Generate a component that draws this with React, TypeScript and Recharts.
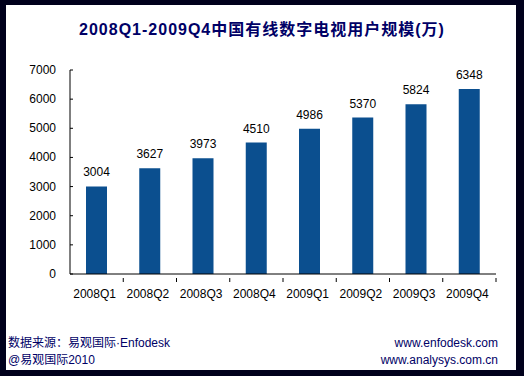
import React from 'react';
import { BarChart, Bar, XAxis, YAxis, LabelList } from 'recharts';

const quarters = ['2008Q1', '2008Q2', '2008Q3', '2008Q4', '2009Q1', '2009Q2', '2009Q3', '2009Q4'];
const users = [3004, 3627, 3973, 4510, 4986, 5370, 5824, 6348];
const yTicks = [0, 1000, 2000, 3000, 4000, 5000, 6000, 7000];

const data = quarters.map((q, i) => ({ q, users: users[i] }));

const FONT = '"Liberation Sans", Arial, "Noto Sans CJK SC", sans-serif';
const NAVY = '#000066';
const BAR = '#0b4f8f';

// plot area: x 70..496
const BAND = (496 - 70) / quarters.length;
const Y_GAP = 14;

// category ticks sit on the boundaries and point up into the plot
const QuarterTick = (props: any) => {
  const { x, y, payload } = props;
  const edge = x + BAND / 2;
  return (
    <g>
      <line x1={edge} x2={edge} y1={y - 4} y2={y} stroke="#000" strokeWidth={1} />
      <text x={x - 2} y={y + 16} textAnchor="middle" fontSize={12} fontFamily={FONT} fill="#000">
        {payload.value}
      </text>
    </g>
  );
};

// value ticks point right, into the plot
const ValueTick = (props: any) => {
  const { x, y, payload } = props;
  const axisX = x + Y_GAP;
  return (
    <g>
      <line x1={axisX} x2={axisX + 3} y1={y} y2={y} stroke="#000" strokeWidth={1} />
      <text x={x} y={y + 4} textAnchor="end" fontSize={12} fontFamily={FONT} fill="#000">
        {payload.value}
      </text>
    </g>
  );
};

export default function App() {
  return (
    <div style={{ position: 'absolute', left: 0, top: 0, width: 524, height: 376, background: '#00001c' }}>
      <div style={{ position: 'absolute', left: 6, top: 5, width: 510, height: 365, background: '#fff' }} />
      <div
        style={{
          position: 'absolute', left: 0, top: 16, width: 524, textAlign: 'center',
          fontFamily: FONT, fontWeight: 'bold', fontSize: 16, letterSpacing: 1, color: NAVY,
        }}
      >
        2008Q1-2009Q4中国有线数字电视用户规模(万)
      </div>
      <div style={{ position: 'absolute', left: 0, top: 0 }}>
        <BarChart width={524} height={376} data={data} margin={{ top: 70, right: 28, bottom: 72, left: 10 }}>
          <XAxis
            dataKey="q"
            tickLine={false}
            axisLine={{ stroke: '#000' }}
            tick={<QuarterTick />}
            interval={0}
            height={30}
          />
          <YAxis
            domain={[0, 7000]}
            ticks={yTicks}
            width={60}
            tickLine={false}
            tickSize={0}
            tickMargin={Y_GAP}
            axisLine={{ stroke: '#000' }}
            tick={<ValueTick />}
            interval={0}
          />
          <Bar dataKey="users" fill={BAR} isAnimationActive={false} barSize={21}>
            <LabelList dataKey="users" position="top" offset={10} fontSize={12} fill="#000" fontFamily={FONT} />
          </Bar>
        </BarChart>
      </div>
      <div style={{ position: 'absolute', left: 8, top: 335, fontFamily: FONT, fontSize: 12, color: NAVY, lineHeight: '17px' }}>
        <div>数据来源：易观国际·Enfodesk</div>
        <div>@易观国际2010</div>
      </div>
      <div style={{ position: 'absolute', right: 26, top: 335, fontFamily: FONT, fontSize: 12, color: NAVY, lineHeight: '17px', textAlign: 'right' }}>
        <div>www.enfodesk.com</div>
        <div>www.analysys.com.cn</div>
      </div>
    </div>
  );
}
